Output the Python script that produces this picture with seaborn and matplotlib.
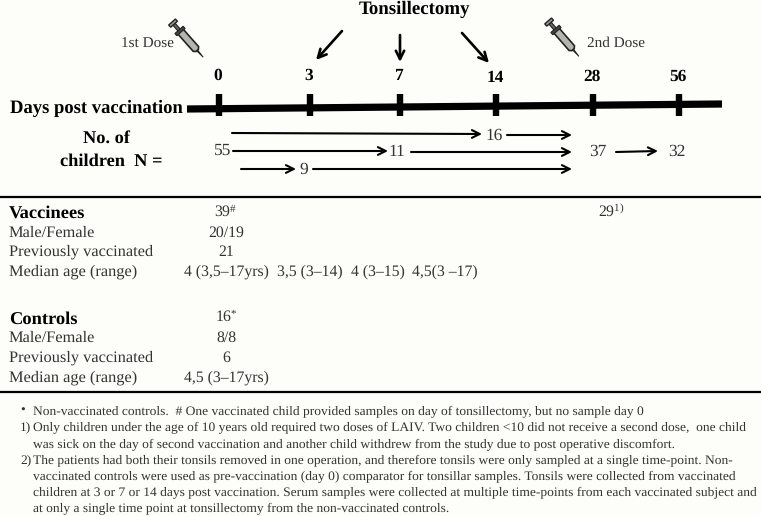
import seaborn as sns
import matplotlib.pyplot as plt
import pandas as pd
from matplotlib.patches import Polygon
from matplotlib.transforms import Affine2D

days = ["0", "3", "7", "14", "28", "56"]
day_x = [219, 310, 400, 496, 593, 679]
day_label_y = [76, 76, 76, 78, 77, 77]

counts = ["55", "11", "16", "9", "37", "32"]
count_x = [223, 397, 494, 304, 598, 677]
count_y = [151, 152, 136, 170, 152, 152]

table_labels = ["Male/Female", "Previously vaccinated", "Median age (range)"]
vaccinee_values = ["20/19", "21", "4 (3,5\u201317yrs)"]
control_values = ["8/8", "6", "4,5 (3\u201317yrs)"]
age_extra = ["3,5 (3\u201314)", "4 (3\u201315)", "4,5(3 \u201317)"]
age_extra_x = [277, 351, 412]

notes = [
    "Non-vaccinated controls.  # One vaccinated child provided samples on day of tonsillectomy, but no sample day 0",
    "Only children under the age of 10 years old required two doses of LAIV. Two children <10 did not receive a second dose,  one child",
    "was sick on the day of second vaccination and another child withdrew from the study due to post operative discomfort.",
    "The patients had both their tonsils removed in one operation, and therefore tonsils were only sampled at a single time-point. Non-",
    "vaccinated controls were used as pre-vaccination (day 0) comparator for tonsillar samples. Tonsils were collected from vaccinated",
    "children at 3 or 7 or 14 days post vaccination. Serum samples were collected at multiple time-points from each vaccinated subject and",
    "at only a single time point at tonsillectomy from the non-vaccinated controls.",
]
note_marks = ["\u2022", "1)", None, "2)", None, None, None]

sns.set_theme(style="white")
plt.rcParams["font.family"] = ["Liberation Serif", "DejaVu Serif"]
plt.rcParams["mathtext.fontset"] = "custom"
plt.rcParams["mathtext.rm"] = "Liberation Serif"
plt.rcParams["mathtext.default"] = "rm"
plt.rcParams["text.hinting"] = "no_hinting"
plt.rcParams["text.hinting_factor"] = 8

BG = "#fdfdf9"
GREY = "#333333"
fig = plt.figure(figsize=(7.61, 5.16), dpi=100, facecolor=BG)
ax = fig.add_axes([0, 0, 1, 1])
ax.set_facecolor(BG)

# timeline
line = pd.DataFrame({"x": [187, 722], "y": [109, 104]})
sns.lineplot(data=line, x="x", y="y", color="black", lw=5.2, ax=ax, solid_capstyle="butt")
ax.vlines(day_x, 94, 116, color="black", lw=4.6)
ax.set_xlim(0, 761)
ax.set_ylim(516, 0)
ax.axis("off")

for d, x, y in zip(days, day_x, day_label_y):
    ax.text(x - 1, y, d, ha="center", va="center", fontsize=12.5, fontweight="bold", color="black")

HEAD = 13.2
ax.text(10, 108, "Days post vaccination", ha="left", va="center", fontsize=13.4, fontweight="bold", color="black")
ax.text(106, 138, "No. of", ha="center", va="center", fontsize=HEAD, fontweight="bold", color="black")
ax.text(111, 161, "children  N =", ha="center", va="center", fontsize=HEAD, fontweight="bold", color="black")
ax.text(414, 9, "Tonsillectomy", ha="center", va="center", fontsize=13.6, fontweight="bold", color="black")
ax.text(147, 44, "1st Dose", ha="center", va="center", fontsize=11, color=GREY)
ax.text(616, 43, "2nd Dose", ha="center", va="center", fontsize=11, color=GREY)

# arrows
def arrow(x0, y0, x1, y1, lw=1.5, ms=14):
    ax.annotate("", xy=(x1, y1), xytext=(x0, y0),
                arrowprops=dict(arrowstyle="->", color="black", lw=lw, mutation_scale=ms,
                                shrinkA=0, shrinkB=0))

for a in [(342, 31, 316, 60), (400, 35, 400, 62), (462, 33, 489, 63)]:
    arrow(*a, lw=1.9, ms=15)
for a in [(232, 133, 482, 134), (507, 135, 572, 135), (233, 151, 388, 151),
          (411, 152, 572, 152), (616, 152, 658, 151), (241, 169, 296, 169), (313, 169, 572, 169)]:
    arrow(*a)

for c, x, y in zip(counts, count_x, count_y):
    ax.text(x, y, c, ha="center", va="center", fontsize=12.5, color=GREY)

# syringes
def syringe(x, y, angle):
    tr = Affine2D().rotate_deg(angle).translate(x, y) + ax.transData
    ax.add_patch(Polygon([(0, -3.6), (24, -3.6), (26, -1.5), (26, 1.5), (24, 3.6), (0, 3.6)], closed=True, fc="#b5b5b0", ec="#222222", lw=1.2, transform=tr))
    ax.add_patch(Polygon([(26, -0.6), (35, 0), (26, 0.6)], closed=True, fc="#222222", ec="#222222", lw=0.7, transform=tr))
    ax.add_patch(Polygon([(-10, -1.5), (0, -1.5), (0, 1.5), (-10, 1.5)], closed=True, fc="#666666", ec="#222222", lw=0.8, transform=tr))
    ax.add_patch(Polygon([(-12, -4.5), (-9, -4.5), (-9, 4.5), (-12, 4.5)], closed=True, fc="#999999", ec="#222222", lw=1, transform=tr))
    ax.add_patch(Polygon([(-1.5, -5.5), (1.5, -5.5), (1.5, 5.5), (-1.5, 5.5)], closed=True, fc="#444444", ec="#222222", lw=0.8, transform=tr))

syringe(180, 31, 48.5)
syringe(556, 30, 49)

# table
ax.hlines([197, 392], 0, 761, color="black", lw=1.6)
ROW = 11.8
VAL = 11.3
ax.text(9, 213, "Vaccinees", ha="left", va="center", fontsize=13.3, fontweight="bold", color="black")
ax.text(226, 212, "39$^{\\#}$", ha="center", va="center", fontsize=VAL, color=GREY)
ax.text(598, 212, "29$^{1)}$", ha="left", va="center", fontsize=VAL, color=GREY)
ax.text(9, 319, "Controls", ha="left", va="center", fontsize=13.3, fontweight="bold", color="black")
ax.text(226, 317, "16$^{*}$", ha="center", va="center", fontsize=VAL, color=GREY)

for lab, v, c, y1, y2 in zip(table_labels, vaccinee_values, control_values, [233, 252, 272], [338, 358, 378]):
    ax.text(9, y1, lab, ha="left", va="center", fontsize=ROW, color=GREY)
    ax.text(226, y1, v, ha="center", va="center", fontsize=VAL, color=GREY)
    ax.text(9, y2, lab, ha="left", va="center", fontsize=ROW, color=GREY)
    ax.text(226, y2, c, ha="center", va="center", fontsize=VAL, color=GREY)
for t, x in zip(age_extra, age_extra_x):
    ax.text(x, 272, t, ha="left", va="center", fontsize=VAL, color=GREY)

# footnotes
NOTE = 9.7
note_y = [411, 427, 444, 460, 476, 492, 508]
for t, m, y in zip(notes, note_marks, note_y):
    ax.text(33, y, t, ha="left", va="center", fontsize=NOTE, color=GREY)
    if m:
        ax.text(20, y, m, ha="left", va="center", fontsize=NOTE, color=GREY)

fig.savefig("out.png", dpi=100, facecolor=BG)
